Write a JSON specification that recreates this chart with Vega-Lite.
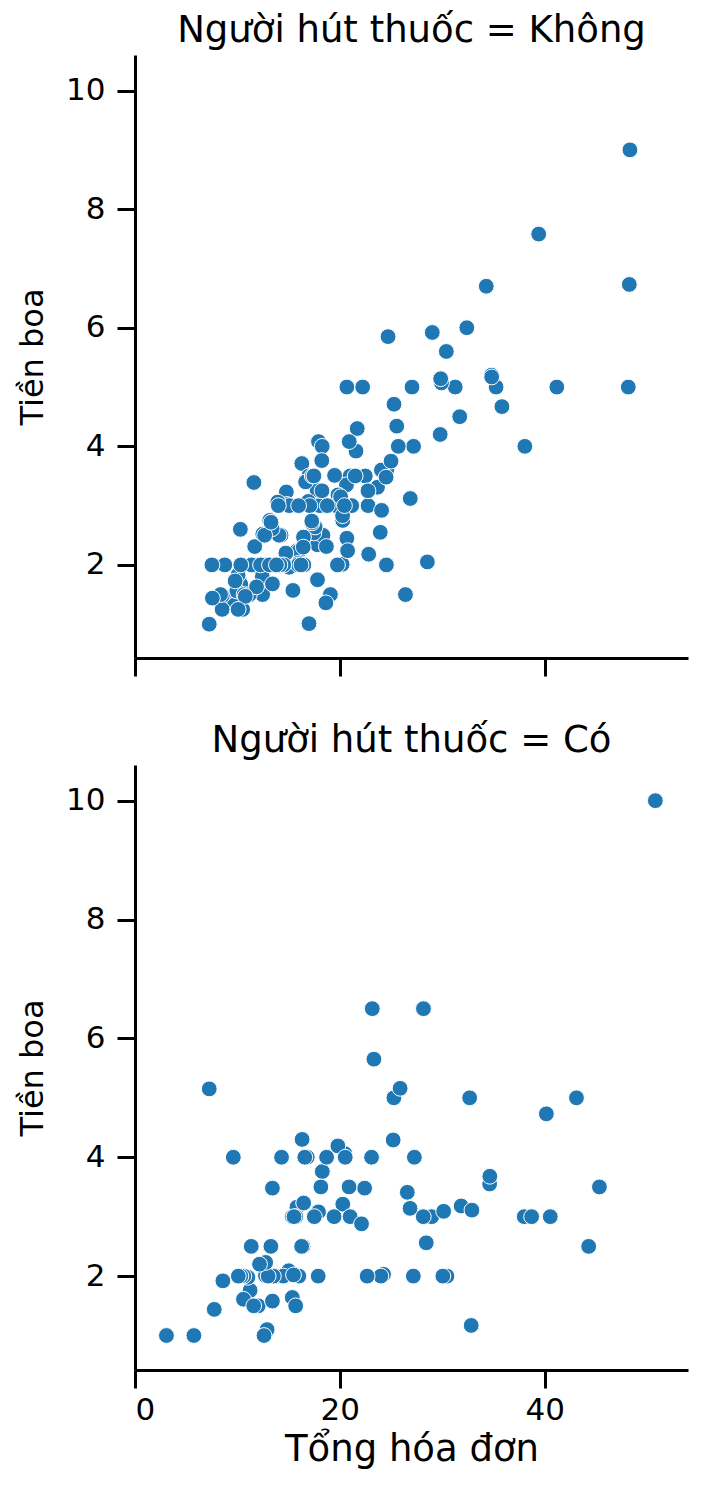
{
  "$schema": "https://vega.github.io/schema/vega-lite/v6.json",
  "background": "white",
  "padding": {"left": 16, "top": 12, "right": 5, "bottom": 5},
  "config": {
    "font": "DejaVu Sans",
    "view": {"stroke": null},
    "title": {"fontSize": 37, "font": "DejaVu Sans", "fontWeight": "normal", "color": "#000000", "offset": 5},
    "axis": {
      "domainColor": "#000000", "domainWidth": 3, "tickColor": "#000000", "tickWidth": 3, "tickSize": 18,
      "labelFontSize": 31, "labelColor": "#000000", "titleFontSize": 32, "titleFontWeight": "normal", "titleColor": "#000000",
      "grid": false, "labelFont": "DejaVu Sans", "titleFont": "DejaVu Sans"
    }
  },
  "datasets": {
    "tips": [
      {"b":16.99,"t":1.01,"s":"No"},{"b":10.34,"t":1.66,"s":"No"},{"b":21.01,"t":3.5,"s":"No"},{"b":23.68,"t":3.31,"s":"No"},{"b":24.59,"t":3.61,"s":"No"},
      {"b":25.29,"t":4.71,"s":"No"},{"b":8.77,"t":2.0,"s":"No"},{"b":26.88,"t":3.12,"s":"No"},{"b":15.04,"t":1.96,"s":"No"},{"b":14.78,"t":3.23,"s":"No"},
      {"b":10.27,"t":1.71,"s":"No"},{"b":35.26,"t":5.0,"s":"No"},{"b":15.42,"t":1.57,"s":"No"},{"b":18.43,"t":3.0,"s":"No"},{"b":14.83,"t":3.02,"s":"No"},
      {"b":21.58,"t":3.92,"s":"No"},{"b":10.33,"t":1.67,"s":"No"},{"b":16.29,"t":3.71,"s":"No"},{"b":16.97,"t":3.5,"s":"No"},{"b":20.65,"t":3.35,"s":"No"},
      {"b":17.92,"t":4.08,"s":"No"},{"b":20.29,"t":2.75,"s":"No"},{"b":15.77,"t":2.23,"s":"No"},{"b":39.42,"t":7.58,"s":"No"},{"b":19.82,"t":3.18,"s":"No"},
      {"b":17.81,"t":2.34,"s":"No"},{"b":13.37,"t":2.0,"s":"No"},{"b":12.69,"t":2.0,"s":"No"},{"b":21.7,"t":4.3,"s":"No"},{"b":19.65,"t":3.0,"s":"No"},
      {"b":9.55,"t":1.45,"s":"No"},{"b":18.35,"t":2.5,"s":"No"},{"b":15.06,"t":3.0,"s":"No"},{"b":20.69,"t":2.45,"s":"No"},{"b":17.78,"t":3.27,"s":"No"},
      {"b":24.06,"t":3.6,"s":"No"},{"b":16.31,"t":2.0,"s":"No"},{"b":16.93,"t":3.07,"s":"No"},{"b":18.69,"t":2.31,"s":"No"},{"b":31.27,"t":5.0,"s":"No"},
      {"b":16.04,"t":2.24,"s":"No"},{"b":17.46,"t":2.54,"s":"No"},{"b":13.94,"t":3.06,"s":"No"},{"b":9.68,"t":1.32,"s":"No"},{"b":30.4,"t":5.6,"s":"No"},
      {"b":18.29,"t":3.0,"s":"No"},{"b":22.23,"t":5.0,"s":"No"},{"b":32.4,"t":6.0,"s":"No"},{"b":28.55,"t":2.05,"s":"No"},{"b":18.04,"t":3.0,"s":"No"},
      {"b":12.54,"t":2.5,"s":"No"},{"b":10.29,"t":2.6,"s":"No"},{"b":34.81,"t":5.2,"s":"No"},{"b":9.94,"t":1.56,"s":"No"},{"b":25.56,"t":4.34,"s":"No"},
      {"b":19.49,"t":3.51,"s":"No"},{"b":38.01,"t":3.0,"s":"Yes"},{"b":26.41,"t":1.5,"s":"No"},{"b":11.24,"t":1.76,"s":"Yes"},{"b":48.27,"t":6.73,"s":"No"},
      {"b":20.29,"t":3.21,"s":"Yes"},{"b":13.81,"t":2.0,"s":"Yes"},{"b":11.02,"t":1.98,"s":"Yes"},{"b":18.29,"t":3.76,"s":"Yes"},{"b":17.59,"t":2.64,"s":"No"},
      {"b":20.08,"t":3.15,"s":"No"},{"b":16.45,"t":2.47,"s":"No"},{"b":3.07,"t":1.0,"s":"Yes"},{"b":20.23,"t":2.01,"s":"No"},{"b":15.01,"t":2.09,"s":"Yes"},
      {"b":12.02,"t":1.97,"s":"No"},{"b":17.07,"t":3.0,"s":"No"},{"b":26.86,"t":3.14,"s":"Yes"},{"b":25.28,"t":5.0,"s":"Yes"},{"b":14.73,"t":2.2,"s":"No"},
      {"b":10.51,"t":1.25,"s":"No"},{"b":17.92,"t":3.08,"s":"Yes"},{"b":27.2,"t":4.0,"s":"No"},{"b":22.76,"t":3.0,"s":"No"},{"b":17.29,"t":2.71,"s":"No"},
      {"b":19.44,"t":3.0,"s":"Yes"},{"b":16.66,"t":3.4,"s":"No"},{"b":10.07,"t":1.83,"s":"No"},{"b":32.68,"t":5.0,"s":"Yes"},{"b":15.98,"t":2.03,"s":"No"},
      {"b":34.83,"t":5.17,"s":"No"},{"b":13.03,"t":2.0,"s":"No"},{"b":18.28,"t":4.0,"s":"No"},{"b":24.71,"t":5.85,"s":"No"},{"b":21.16,"t":3.0,"s":"No"},
      {"b":28.97,"t":3.0,"s":"Yes"},{"b":22.49,"t":3.5,"s":"No"},{"b":5.75,"t":1.0,"s":"Yes"},{"b":16.32,"t":4.3,"s":"Yes"},{"b":22.75,"t":3.25,"s":"No"},
      {"b":40.17,"t":4.73,"s":"Yes"},{"b":27.28,"t":4.0,"s":"Yes"},{"b":12.03,"t":1.5,"s":"Yes"},{"b":21.01,"t":3.0,"s":"Yes"},{"b":12.46,"t":1.5,"s":"No"},
      {"b":11.35,"t":2.5,"s":"Yes"},{"b":15.38,"t":3.0,"s":"Yes"},{"b":44.3,"t":2.5,"s":"Yes"},{"b":22.42,"t":3.48,"s":"Yes"},{"b":20.92,"t":4.08,"s":"No"},
      {"b":15.36,"t":1.64,"s":"Yes"},{"b":20.49,"t":4.06,"s":"Yes"},{"b":25.21,"t":4.29,"s":"Yes"},{"b":18.24,"t":3.76,"s":"No"},{"b":14.31,"t":4.0,"s":"Yes"},
      {"b":14.0,"t":3.0,"s":"No"},{"b":7.25,"t":1.0,"s":"No"},{"b":38.07,"t":4.0,"s":"No"},{"b":23.95,"t":2.55,"s":"No"},{"b":25.71,"t":4.0,"s":"No"},
      {"b":17.31,"t":3.5,"s":"No"},{"b":29.93,"t":5.07,"s":"No"},{"b":10.65,"t":1.5,"s":"No"},{"b":12.43,"t":1.8,"s":"No"},{"b":24.08,"t":2.92,"s":"No"},
      {"b":11.69,"t":2.31,"s":"No"},{"b":13.42,"t":1.68,"s":"No"},{"b":14.26,"t":2.5,"s":"No"},{"b":15.95,"t":2.0,"s":"No"},{"b":12.48,"t":2.52,"s":"No"},
      {"b":29.8,"t":4.2,"s":"No"},{"b":8.52,"t":1.48,"s":"No"},{"b":14.52,"t":2.0,"s":"No"},{"b":11.38,"t":2.0,"s":"No"},{"b":22.82,"t":2.18,"s":"No"},
      {"b":19.08,"t":1.5,"s":"No"},{"b":20.27,"t":2.83,"s":"No"},{"b":11.17,"t":1.5,"s":"No"},{"b":12.26,"t":2.0,"s":"No"},{"b":18.26,"t":3.25,"s":"No"},
      {"b":8.51,"t":1.25,"s":"No"},{"b":10.33,"t":2.0,"s":"No"},{"b":14.15,"t":2.0,"s":"No"},{"b":16.0,"t":2.0,"s":"Yes"},{"b":13.16,"t":2.75,"s":"No"},
      {"b":17.47,"t":3.5,"s":"No"},{"b":34.3,"t":6.7,"s":"No"},{"b":41.19,"t":5.0,"s":"No"},{"b":27.05,"t":5.0,"s":"No"},{"b":16.43,"t":2.3,"s":"No"},
      {"b":8.35,"t":1.5,"s":"No"},{"b":18.64,"t":1.36,"s":"No"},{"b":11.87,"t":1.63,"s":"No"},{"b":9.78,"t":1.73,"s":"No"},{"b":7.51,"t":2.0,"s":"No"},
      {"b":14.07,"t":2.5,"s":"No"},{"b":13.13,"t":2.0,"s":"No"},{"b":17.26,"t":2.74,"s":"No"},{"b":24.55,"t":2.0,"s":"No"},{"b":19.77,"t":2.0,"s":"No"},
      {"b":29.85,"t":5.14,"s":"No"},{"b":48.17,"t":5.0,"s":"No"},{"b":25.0,"t":3.75,"s":"No"},{"b":13.39,"t":2.61,"s":"No"},{"b":16.49,"t":2.0,"s":"No"},
      {"b":21.5,"t":3.5,"s":"No"},{"b":12.66,"t":2.5,"s":"No"},{"b":16.21,"t":2.0,"s":"No"},{"b":13.81,"t":2.0,"s":"No"},{"b":17.51,"t":3.0,"s":"Yes"},
      {"b":24.52,"t":3.48,"s":"No"},{"b":20.76,"t":2.24,"s":"No"},{"b":31.71,"t":4.5,"s":"No"},{"b":10.59,"t":1.61,"s":"Yes"},{"b":10.63,"t":2.0,"s":"Yes"},
      {"b":50.81,"t":10.0,"s":"Yes"},{"b":15.81,"t":3.16,"s":"Yes"},{"b":7.25,"t":5.15,"s":"Yes"},{"b":31.85,"t":3.18,"s":"Yes"},{"b":16.82,"t":4.0,"s":"Yes"},
      {"b":32.9,"t":3.11,"s":"Yes"},{"b":17.89,"t":2.0,"s":"Yes"},{"b":14.48,"t":2.0,"s":"Yes"},{"b":9.6,"t":4.0,"s":"Yes"},{"b":34.63,"t":3.55,"s":"Yes"},
      {"b":34.65,"t":3.68,"s":"Yes"},{"b":23.33,"t":5.65,"s":"Yes"},{"b":45.35,"t":3.5,"s":"Yes"},{"b":23.17,"t":6.5,"s":"Yes"},{"b":40.55,"t":3.0,"s":"Yes"},
      {"b":20.69,"t":5.0,"s":"No"},{"b":20.9,"t":3.5,"s":"Yes"},{"b":30.46,"t":2.0,"s":"Yes"},{"b":18.15,"t":3.5,"s":"Yes"},{"b":23.1,"t":4.0,"s":"Yes"},
      {"b":15.69,"t":1.5,"s":"Yes"},{"b":19.81,"t":4.19,"s":"Yes"},{"b":28.44,"t":2.56,"s":"Yes"},{"b":15.48,"t":2.02,"s":"Yes"},{"b":16.58,"t":4.0,"s":"Yes"},
      {"b":7.56,"t":1.44,"s":"No"},{"b":10.34,"t":2.0,"s":"Yes"},{"b":43.11,"t":5.0,"s":"Yes"},{"b":13.0,"t":2.0,"s":"Yes"},{"b":13.51,"t":2.0,"s":"Yes"},
      {"b":18.71,"t":4.0,"s":"Yes"},{"b":12.74,"t":2.01,"s":"Yes"},{"b":13.0,"t":2.0,"s":"Yes"},{"b":16.4,"t":2.5,"s":"Yes"},{"b":20.53,"t":4.0,"s":"Yes"},
      {"b":16.47,"t":3.23,"s":"Yes"},{"b":26.59,"t":3.41,"s":"Yes"},{"b":38.73,"t":3.0,"s":"Yes"},{"b":24.27,"t":2.03,"s":"Yes"},{"b":12.76,"t":2.23,"s":"Yes"},
      {"b":30.06,"t":2.0,"s":"Yes"},{"b":25.89,"t":5.16,"s":"Yes"},{"b":48.33,"t":9.0,"s":"No"},{"b":13.27,"t":2.5,"s":"Yes"},{"b":28.17,"t":6.5,"s":"Yes"},
      {"b":12.9,"t":1.1,"s":"Yes"},{"b":28.15,"t":3.0,"s":"Yes"},{"b":11.59,"t":1.5,"s":"Yes"},{"b":7.74,"t":1.44,"s":"Yes"},{"b":30.14,"t":3.09,"s":"Yes"},
      {"b":12.16,"t":2.2,"s":"Yes"},{"b":13.42,"t":3.48,"s":"Yes"},{"b":8.58,"t":1.92,"s":"Yes"},{"b":15.98,"t":3.0,"s":"No"},{"b":13.42,"t":1.58,"s":"Yes"},
      {"b":16.27,"t":2.5,"s":"Yes"},{"b":10.09,"t":2.0,"s":"Yes"},{"b":20.45,"t":3.0,"s":"No"},{"b":13.28,"t":2.72,"s":"No"},{"b":22.12,"t":2.88,"s":"Yes"},
      {"b":24.01,"t":2.0,"s":"Yes"},{"b":15.69,"t":3.0,"s":"Yes"},{"b":11.61,"t":3.39,"s":"No"},{"b":10.77,"t":1.47,"s":"No"},{"b":15.53,"t":3.0,"s":"Yes"},
      {"b":10.07,"t":1.25,"s":"No"},{"b":12.6,"t":1.0,"s":"Yes"},{"b":32.83,"t":1.17,"s":"Yes"},{"b":35.83,"t":4.67,"s":"No"},{"b":29.03,"t":5.92,"s":"No"},
      {"b":27.18,"t":2.0,"s":"Yes"},{"b":22.67,"t":2.0,"s":"Yes"},{"b":17.82,"t":1.75,"s":"No"},{"b":18.78,"t":3.0,"s":"No"}
    ]
  },
  "spacing": 44,
  "vconcat": [
    {
      "title": "Người hút thuốc = Không",
      "width": 553,
      "height": 603,
      "data": {"name": "tips"},
      "transform": [{"filter": "datum.s === 'No'"}],
      "mark": {"type": "point", "filled": true, "size": 250, "color": "#1f77b4", "opacity": 1, "stroke": "white", "strokeWidth": 1},
      "encoding": {
        "x": {"field": "b", "type": "quantitative", "scale": {"domain": [0, 54], "nice": false, "zero": false},
              "axis": {"values": [0, 20, 40], "labels": false, "title": null}},
        "y": {"field": "t", "type": "quantitative", "scale": {"domain": [0.43, 10.6], "nice": false, "zero": false},
              "axis": {"values": [2, 4, 6, 8, 10], "title": "Tiền boa", "labelPadding": 12, "titlePadding": 16}}
      }
    },
    {
      "title": "Người hút thuốc = Có",
      "width": 553,
      "height": 605,
      "data": {"name": "tips"},
      "transform": [{"filter": "datum.s === 'Yes'"}],
      "mark": {"type": "point", "filled": true, "size": 250, "color": "#1f77b4", "opacity": 1, "stroke": "white", "strokeWidth": 1},
      "encoding": {
        "x": {"field": "b", "type": "quantitative", "scale": {"domain": [0, 54], "nice": false, "zero": false},
              "axis": {"values": [0, 20, 40], "title": "Tổng hóa đơn", "titleFontSize": 37, "labelPadding": 7, "titlePadding": 6}},
        "y": {"field": "t", "type": "quantitative", "scale": {"domain": [0.42, 10.6], "nice": false, "zero": false},
              "axis": {"values": [2, 4, 6, 8, 10], "title": "Tiền boa", "labelPadding": 12, "titlePadding": 16}}
      }
    }
  ]
}
